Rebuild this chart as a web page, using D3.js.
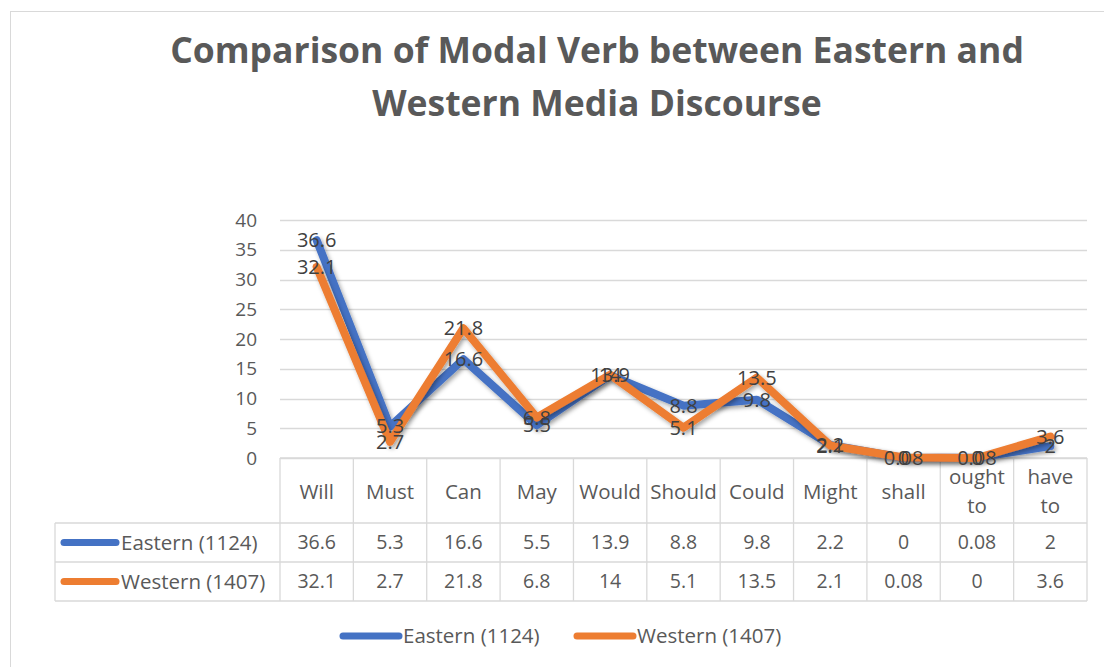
<!DOCTYPE html>
<html>
<head>
<meta charset="utf-8">
<script src="https://d3js.org/d3.v7.min.js"></script>
<style>
  body { margin: 0; background: #fff; }
  text { font-family: "Open Sans", sans-serif; }
</style>
</head>
<body>
<script>
// chart data
var categories = ["Will", "Must", "Can", "May", "Would", "Should", "Could", "Might", "shall", "ought to", "have to"];
var eastern = [36.6, 5.3, 16.6, 5.5, 13.9, 8.8, 9.8, 2.2, 0, 0.08, 2];
var western = [32.1, 2.7, 21.8, 6.8, 14, 5.1, 13.5, 2.1, 0.08, 0, 3.6];
var seriesNames = ["Eastern (1124)", "Western (1407)"];
var seriesColors = ["#4472C4", "#ED7D31"];
var titleLines = ["Comparison of Modal Verb between Eastern and", "Western Media Discourse"];

var w = 1104, h = 667;
var plotLeft = 280, plotRight = 1087, plotTop = 220, plotBottom = 458;
var rowH = [65, 39, 39];
var tableLeft = 55;
var gridColor = "#d9d9d9";
var textColor = "#595959";
var wordSize = 20.5, numSize = 19.5;

var svg = d3.select("body").append("svg").attr("width", w).attr("height", h);

// drop shadow like Excel's line effect
var defs = svg.append("defs");
var f = defs.append("filter").attr("id", "shadow").attr("x", "-10%").attr("y", "-10%").attr("width", "120%").attr("height", "120%");
f.append("feDropShadow").attr("dx", 2).attr("dy", 2.5).attr("stdDeviation", 2).attr("flood-color", "#000").attr("flood-opacity", 0.35);

// outer chart border
svg.append("rect").attr("x", 10.5).attr("y", 11.5).attr("width", w).attr("height", h)
  .attr("fill", "none").attr("stroke", gridColor);

// title
svg.selectAll("text.title").data(titleLines).enter().append("text")
  .attr("class", "title")
  .attr("x", 597).attr("y", function(d, i) { return 63 + i * 53; })
  .attr("text-anchor", "middle")
  .attr("font-size", 35.5).attr("font-weight", 700).attr("fill", textColor)
  .text(function(d) { return d; });

var x = d3.scaleBand().domain(categories).range([plotLeft, plotRight]);
var y = d3.scaleLinear().domain([0, 40]).range([plotBottom, plotTop]);

// gridlines
svg.append("g").selectAll("line").data(y.ticks(8)).enter().append("line")
  .attr("x1", plotLeft).attr("x2", plotRight)
  .attr("y1", function(d) { return Math.round(y(d)) + 0.5; })
  .attr("y2", function(d) { return Math.round(y(d)) + 0.5; })
  .attr("stroke", gridColor).attr("stroke-width", 1.3);

// y axis labels
svg.append("g").selectAll("text").data(y.ticks(8)).enter().append("text")
  .attr("x", 257).attr("y", function(d) { return y(d); })
  .attr("dy", "0.35em").attr("text-anchor", "end")
  .attr("font-size", 19).attr("fill", textColor)
  .text(function(d) { return d; });

// data table
var tbl = svg.append("g").attr("stroke", gridColor).attr("stroke-width", 1.3);
var r0 = plotBottom, r1 = plotBottom + rowH[0], r2 = r1 + rowH[1], r3 = r2 + rowH[2];
tbl.append("line").attr("x1", plotLeft).attr("x2", plotRight).attr("y1", r0).attr("y2", r0);
[r1, r2, r3].forEach(function(yy) {
  tbl.append("line").attr("x1", tableLeft).attr("x2", plotRight).attr("y1", yy).attr("y2", yy);
});
categories.forEach(function(c) {
  tbl.append("line").attr("x1", x(c)).attr("x2", x(c)).attr("y1", r0).attr("y2", r3);
});
tbl.append("line").attr("x1", plotRight).attr("x2", plotRight).attr("y1", r0).attr("y2", r3);
tbl.append("line").attr("x1", tableLeft).attr("x2", tableLeft).attr("y1", r1).attr("y2", r3);

// header labels (wrap when too wide)
categories.forEach(function(c) {
  var cx = x(c) + x.bandwidth() / 2;
  var t = svg.append("text")
    .attr("x", cx).attr("text-anchor", "middle")
    .attr("font-size", wordSize).attr("fill", textColor)
    .text(c);
  var words = c.split(" ");
  if (words.length > 1 && t.node().getComputedTextLength() > x.bandwidth() - 12) {
    t.text(null);
    words.forEach(function(wd, i) {
      t.append("tspan").attr("x", cx).attr("y", r0 + 26 + i * 29).text(wd);
    });
  } else {
    t.attr("y", r0 + 41);
  }
});

// value rows
[eastern, western].forEach(function(vals, si) {
  var rowY = si == 0 ? (r1 + r2) / 2 : (r2 + r3) / 2;
  svg.append("line")
    .attr("x1", 64).attr("x2", 116).attr("y1", rowY).attr("y2", rowY)
    .attr("stroke", seriesColors[si]).attr("stroke-width", 7).attr("stroke-linecap", "round");
  svg.append("text").attr("x", 121).attr("y", rowY).attr("dy", "0.35em")
    .attr("font-size", wordSize).attr("fill", textColor).text(seriesNames[si]);
  svg.append("g").selectAll("text").data(vals).enter().append("text")
    .attr("x", function(d, i) { return x(categories[i]) + x.bandwidth() / 2; })
    .attr("y", rowY).attr("dy", "0.35em").attr("text-anchor", "middle")
    .attr("font-size", numSize).attr("fill", textColor)
    .text(function(d) { return d; });
});

// lines
var line = d3.line()
  .x(function(d, i) { return x(categories[i]) + x.bandwidth() / 2; })
  .y(function(d) { return y(d); });

[eastern, western].forEach(function(vals, si) {
  svg.append("path").datum(vals)
    .attr("d", line)
    .attr("fill", "none").attr("stroke", seriesColors[si]).attr("stroke-width", 8)
    .attr("stroke-linejoin", "round").attr("stroke-linecap", "round")
    .attr("filter", "url(#shadow)");
});

// data labels
[eastern, western].forEach(function(vals) {
  svg.append("g").selectAll("text").data(vals).enter().append("text")
    .attr("x", function(d, i) { return x(categories[i]) + x.bandwidth() / 2; })
    .attr("y", function(d) { return y(d); })
    .attr("dy", "0.35em").attr("text-anchor", "middle")
    .attr("font-size", 20).attr("fill", "#404040")
    .text(function(d) { return d; });
});

// bottom legend
var legend = svg.append("g");
var legX = [343, 577];
seriesNames.forEach(function(n, i) {
  legend.append("line").attr("x1", legX[i]).attr("x2", legX[i] + 56).attr("y1", 636).attr("y2", 636)
    .attr("stroke", seriesColors[i]).attr("stroke-width", 7).attr("stroke-linecap", "round");
  legend.append("text").attr("x", legX[i] + 60).attr("y", 636).attr("dy", "0.35em")
    .attr("font-size", wordSize).attr("fill", textColor).text(n);
});
</script>
</body>
</html>
